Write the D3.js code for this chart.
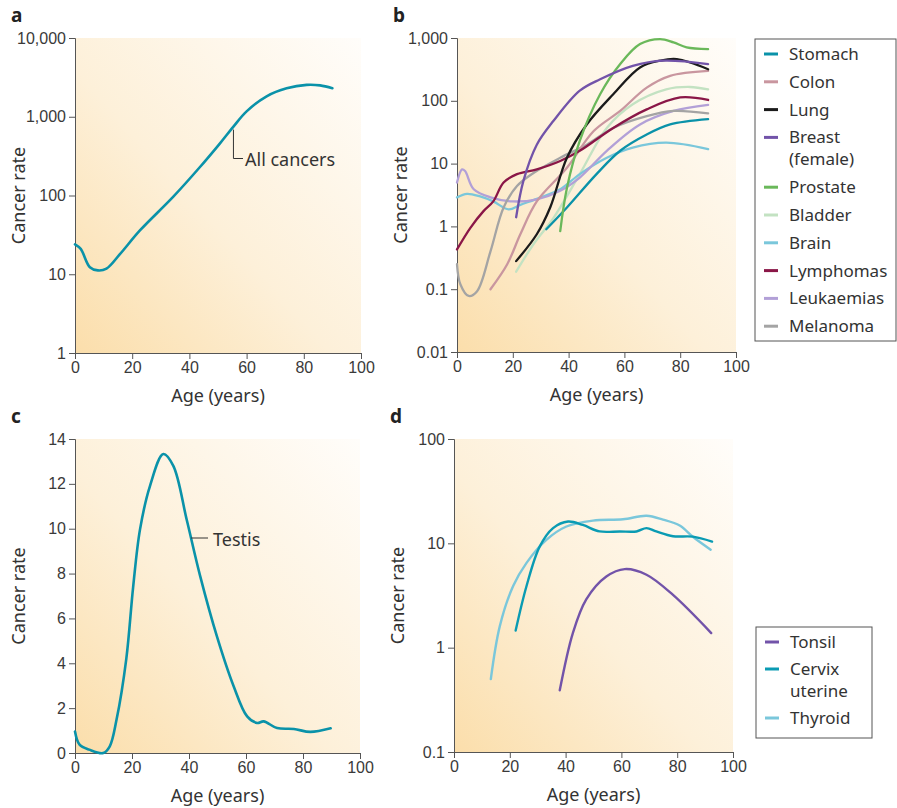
<!DOCTYPE html>
<html>
<head>
<meta charset="utf-8">
<script src="https://cdn.jsdelivr.net/npm/d3@7"></script>
<style>
  body { margin: 0; background: #fff; }
  svg { font-family: "Noto Sans", "Open Sans", sans-serif; }
  .tick text { fill: #3a3a3a; }
  .domain, .tick line { stroke: #555; }
</style>
</head>
<body>
<svg id="chart" width="897" height="808"></svg>
<script>
// ---- data ----
// panel a: all cancers
var allAges = [0, 2, 5.2, 8, 11, 15.7, 22.7, 34.3, 43.7, 50.7, 55.4, 60, 67, 74, 81, 85.7, 90];
var allRates = [24, 21, 12.3, 11.2, 11.8, 18, 36, 96, 230, 460, 750, 1170, 1820, 2300, 2540, 2500, 2300];

// panel b: individual cancers
var bNames = ["Stomach", "Colon", "Lung", "Breast\n(female)", "Prostate", "Bladder", "Brain", "Lymphomas", "Leukaemias", "Melanoma"];
var bColors = ["#0a92a9", "#c9969f", "#1b1b1b", "#7253a9", "#6ab85a", "#c3e2c2", "#7ac7db", "#8a1647", "#b2a0d7", "#a4a4a4"];
var stomachAges = [32, 39.4, 50, 58.5, 68, 76.4, 90];
var stomachRates = [0.9, 2.0, 6.8, 16, 29, 42, 51];
var colonAges = [12, 18, 22.7, 28.6, 39.4, 49, 58.5, 68, 76.4, 90];
var colonRates = [0.1, 0.25, 0.75, 2.5, 8.6, 33, 69, 162, 250, 300];
var lungAges = [21.2, 28.6, 33.4, 39.4, 46.5, 56, 65.6, 72.8, 78.8, 90];
var lungRates = [0.28, 0.75, 2, 12.4, 42, 127, 340, 435, 460, 318];
var breastAges = [21.2, 23.8, 28.6, 34.6, 44, 51.3, 63, 74, 90];
var breastRates = [1.4, 5.3, 20, 48, 145, 220, 360, 435, 385];
var prostateAges = [37, 39.4, 44, 51.3, 58.5, 65.6, 72.8, 77.6, 82.3, 90];
var prostateRates = [0.84, 4.1, 23, 127, 385, 800, 960, 850, 710, 665];
var bladderAges = [21.2, 27.4, 34.6, 44, 53.7, 63, 75, 83.5, 90];
var bladderRates = [0.19, 0.52, 1.37, 6.8, 37, 88, 152, 166, 152];
var brainAges = [0, 3.6, 8.3, 13, 18.5, 22.7, 30, 37, 44, 53.7, 63, 75, 90];
var brainRates = [2.9, 3.3, 3.0, 2.5, 1.87, 2.2, 2.9, 3.9, 6.8, 12.4, 18, 21.5, 17];
var lymphAges = [0, 4.8, 9.5, 13, 16.7, 21.5, 28.6, 37, 44, 56, 68, 80, 90];
var lymphRates = [0.43, 0.95, 1.75, 2.5, 5.0, 6.8, 8.1, 11, 16, 37, 73, 113, 103];
var leukAges = [0, 1.8, 2.9, 6, 12, 20, 28.6, 37, 44, 53.7, 65.6, 77.6, 90];
var leukRates = [5, 8.1, 7.6, 3.9, 2.9, 2.5, 2.7, 3.7, 6, 16, 42, 69, 86];
var melanomaAges = [0, 1.2, 4.2, 7.2, 12, 16.7, 21.5, 27.4, 37, 46.5, 56, 68, 77.6, 90];
var melanomaRates = [0.25, 0.12, 0.078, 0.093, 0.4, 2, 4.4, 7.1, 12.4, 20, 37, 57, 69, 63];

// panel c: testis
var testisAges = [0, 1.6, 5, 9.9, 12.2, 14.6, 18, 20.4, 22.8, 26.3, 31, 34.5, 39.2, 43.9, 49.8, 55.6, 60.4, 63.9, 66.2, 70.9, 76.8, 82.6, 89.7];
var testisRates = [0.96, 0.37, 0.15, 0, 0.3, 1.5, 4.2, 7.4, 9.96, 11.9, 13.33, 12.8, 10.4, 7.9, 5.2, 3.0, 1.63, 1.34, 1.41, 1.11, 1.07, 0.94, 1.1];

// panel d
var dNames = ["Tonsil", "Cervix\nuterine", "Thyroid"];
var dColors = ["#7253a9", "#0a9bb3", "#7ac7db"];
var tonsilAges = [37.9, 42.6, 47.4, 54.6, 61.2, 69, 78.5, 92.2];
var tonsilRates = [0.39, 1.38, 2.9, 4.8, 5.66, 5.0, 3.2, 1.38];
var cervixAges = [22.1, 26, 30.7, 35.5, 40.9, 46.2, 52.2, 59.4, 65.4, 69, 72.5, 78.5, 85.6, 92.5];
var cervixRates = [1.46, 3.9, 9.3, 14, 16.2, 15, 13, 13, 13, 14, 13, 11.7, 11.6, 10.4];
var thyroidAges = [13.2, 16.4, 21.2, 26, 33.1, 40.3, 49.8, 60.6, 69, 74.9, 80.9, 85.7, 92];
var thyroidRates = [0.5, 1.6, 3.9, 6.5, 10.8, 14.5, 16.5, 17, 18.4, 16.9, 14.8, 11.5, 8.7];

var xTicks = [0, 20, 40, 60, 80, 100];

// ---- drawing ----
var svg = d3.select("#chart");
var fmt = d3.format(",");

var defs = svg.append("defs");
var grad = defs.append("linearGradient")
  .attr("id", "bg")
  .attr("x1", 0).attr("y1", 1).attr("x2", 1).attr("y2", 0);
grad.append("stop").attr("offset", "0%").attr("stop-color", "#fbdeab");
grad.append("stop").attr("offset", "45%").attr("stop-color", "#fdf0d9");
grad.append("stop").attr("offset", "100%").attr("stop-color", "#fffdfa");

function zip(ages, rates) {
  return ages.map(function(a, i) { return [a, rates[i]]; });
}

function panel(opt) {
  var x = d3.scaleLinear().domain([0, 100]).range([opt.x0, opt.x1]);
  var y = opt.log
    ? d3.scaleLog().domain(opt.domain).range([opt.y0, opt.y1])
    : d3.scaleLinear().domain(opt.domain).range([opt.y0, opt.y1]);

  var g = svg.append("g");
  g.append("rect")
    .attr("x", opt.x0).attr("y", opt.y1)
    .attr("width", opt.x1 - opt.x0).attr("height", opt.y0 - opt.y1)
    .attr("fill", "url(#bg)");

  g.append("g")
    .attr("transform", "translate(0," + opt.y0 + ")")
    .call(d3.axisBottom(x).tickValues(xTicks).tickSize(6).tickPadding(3))
    .selectAll("text").style("font-size", "16px");

  g.append("g")
    .attr("transform", "translate(" + opt.x0 + ",0)")
    .call(d3.axisLeft(y).tickValues(opt.yTicks).tickFormat(opt.yFormat).tickSize(6).tickPadding(3))
    .selectAll("text").style("font-size", "16px");

  g.append("text")
    .attr("x", (opt.x0 + opt.x1) / 2).attr("y", opt.y0 + 49)
    .attr("text-anchor", "middle").attr("fill", "#333")
    .style("font-size", "18px").text("Age (years)");

  g.append("text")
    .attr("transform", "translate(" + (opt.x0 - 50) + "," + ((opt.y0 + opt.y1) / 2) + ") rotate(-90)")
    .attr("text-anchor", "middle").attr("fill", "#333")
    .style("font-size", "18px").text("Cancer rate");

  g.append("text")
    .attr("x", opt.x0 - 64).attr("y", opt.y1 - 16)
    .attr("fill", "#222").style("font-size", "19px").style("font-weight", "bold")
    .text(opt.letter);

  var line = d3.line()
    .x(function(d) { return x(d[0]); })
    .y(function(d) { return y(d[1]); })
    .curve(d3.curveCatmullRom.alpha(0.5));

  opt.series.forEach(function(s) {
    g.append("path")
      .datum(s.data)
      .attr("d", line)
      .attr("fill", "none")
      .attr("stroke", s.color)
      .attr("stroke-width", opt.sw)
      .attr("stroke-linecap", "round");
  });
  return { x: x, y: y, g: g };
}

function legend(x0, y0, w, h, names, colors, step) {
  var lg = svg.append("g");
  lg.append("rect").attr("x", x0).attr("y", y0).attr("width", w).attr("height", h)
    .attr("fill", "#fff").attr("stroke", "#555").attr("stroke-width", 1);
  var yy = y0 + 15;
  names.forEach(function(n, i) {
    var lines = n.split("\n");
    lg.append("line")
      .attr("x1", x0 + 9).attr("x2", x0 + 23)
      .attr("y1", yy).attr("y2", yy)
      .attr("stroke", colors[i]).attr("stroke-width", 3);
    lines.forEach(function(t, j) {
      lg.append("text")
        .attr("x", x0 + 34).attr("y", yy + j * 22 + 6)
        .attr("fill", "#333").style("font-size", "17px").text(t);
    });
    yy += step + (lines.length - 1) * 22;
  });
}

// a
var pa = panel({
  letter: "a", x0: 75, x1: 361, y0: 353, y1: 38, log: true, domain: [1, 10000],
  yTicks: [1, 10, 100, 1000, 10000], yFormat: fmt, sw: 2.6,
  series: [{ data: zip(allAges, allRates), color: "#0a92a9" }]
});
pa.g.append("path")
  .attr("d", "M" + pa.x(55.4) + "," + (pa.y(750) + 3) + "V" + 158.5 + "H" + 243)
  .attr("fill", "none").attr("stroke", "#333").attr("stroke-width", 1);
pa.g.append("text").attr("x", 245).attr("y", 166).attr("fill", "#333")
  .style("font-size", "18px").text("All cancers");

// b
var bSeries = [
  zip(stomachAges, stomachRates), zip(colonAges, colonRates), zip(lungAges, lungRates),
  zip(breastAges, breastRates), zip(prostateAges, prostateRates), zip(bladderAges, bladderRates),
  zip(brainAges, brainRates), zip(lymphAges, lymphRates), zip(leukAges, leukRates),
  zip(melanomaAges, melanomaRates)
];
// draw order so the lighter lines sit under the darker ones
var bOrder = [5, 6, 8, 9, 1, 0, 7, 2, 4, 3];
panel({
  letter: "b", x0: 457, x1: 736, y0: 352, y1: 38, log: true, domain: [0.01, 1000],
  yTicks: [0.01, 0.1, 1, 10, 100, 1000], yFormat: function(d) { return d >= 1 ? fmt(d) : String(d); }, sw: 2.3,
  series: bOrder.map(function(i) { return { data: bSeries[i], color: bColors[i] }; })
});
legend(755, 39, 141, 302, bNames, bColors, 27.8);

// c
var pc = panel({
  letter: "c", x0: 75, x1: 360, y0: 753, y1: 439, log: false, domain: [0, 14],
  yTicks: [0, 2, 4, 6, 8, 10, 12, 14], yFormat: d3.format("d"), sw: 2.6,
  series: [{ data: zip(testisAges, testisRates), color: "#0a92a9" }]
});
pc.g.append("line").attr("x1", 191).attr("x2", 208).attr("y1", 538).attr("y2", 538)
  .attr("stroke", "#333").attr("stroke-width", 1);
pc.g.append("text").attr("x", 213).attr("y", 546).attr("fill", "#333")
  .style("font-size", "18px").text("Testis");

// d
panel({
  letter: "d", x0: 454, x1: 733, y0: 752, y1: 439, log: true, domain: [0.1, 100],
  yTicks: [0.1, 1, 10, 100], yFormat: function(d) { return String(d); }, sw: 2.4,
  series: [
    { data: zip(thyroidAges, thyroidRates), color: dColors[2] },
    { data: zip(cervixAges, cervixRates), color: dColors[1] },
    { data: zip(tonsilAges, tonsilRates), color: dColors[0] }
  ]
});
legend(756, 627, 116, 111, dNames, dColors, 27);
</script>
</body>
</html>
